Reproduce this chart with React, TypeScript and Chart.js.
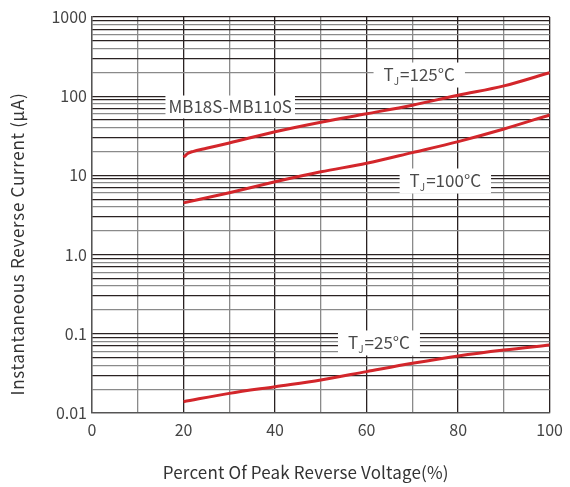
import React, { useEffect, useRef } from 'react';
import { Chart, registerables } from 'chart.js';

Chart.register(...registerables);

// ---- data ----
const voltage125 = [20, 21, 22, 25, 30, 40, 50, 60, 70, 80, 90, 100];
const current125 = [17, 19, 20, 22, 25.7, 35.6, 47, 60, 77, 103, 135, 198];
const voltage100 = [20, 30, 40, 50, 60, 70, 80, 90, 100];
const current100 = [4.5, 6.05, 8.3, 11.1, 14.2, 19.4, 26.7, 38.5, 58];
const voltage25 = [20, 30, 40, 50, 60, 70, 80, 90, 100];
const current25 = [0.0139, 0.0177, 0.0215, 0.0261, 0.0333, 0.0424, 0.0525, 0.0624, 0.0722];

const xGridValues = [0, 10, 20, 30, 40, 50, 60, 70, 80, 90, 100];
const xTickLabels = ['0', '', '20', '', '40', '', '60', '', '80', '', '100'];
const yDecades = [0.01, 0.1, 1, 10, 100, 1000];
const yTickLabels = ['0.01', '0.1', '1.0', '10', '100', '1000'];

const xTitle = 'Percent Of Peak Reverse Voltage(%)';
const yTitle = 'Instantaneous Reverse Current (μA)';

type Part = [string, 'n' | 's'];
const noteParts: Part[][] = [
  [['MB18S-MB110S', 'n']],
  [['T', 'n'], ['J', 's'], ['=125°C', 'n']],
  [['T', 'n'], ['J', 's'], ['=100°C', 'n']],
  [['T', 'n'], ['J', 's'], ['=25°C', 'n']],
];
const noteX = [30.2, 71.5, 77.2, 62.7];
const noteY = [73, 185, 8.5, 0.0766];

const FONT = '"Noto Sans CJK SC", "Noto Sans", sans-serif';
const RED = '#d3262b';

const notesPlugin = {
  id: 'notes',
  beforeDatasetsDraw(chart: any) {
    const { ctx, scales } = chart;
    const xs = scales.x;
    const ys = scales.y;
    ctx.save();
    noteParts.forEach((parts, i) => {
      const cx = xs.getPixelForValue(noteX[i]);
      const cy = ys.getPixelForValue(noteY[i]);
      const widths = parts.map(([t, k]) => {
        ctx.font = k === 's' ? `10px ${FONT}` : `17px ${FONT}`;
        return ctx.measureText(t).width + (k === 's' ? 1 : 0);
      });
      const total = widths.reduce((a, b) => a + b, 0);
      const padX = i === 0 ? 3 : 10;
      const boxH = i === 0 ? 23 : 25;
      ctx.fillStyle = '#ffffff';
      ctx.fillRect(cx - total / 2 - padX, cy - boxH / 2, total + padX * 2, boxH);
      let px = cx - total / 2;
      ctx.fillStyle = '#4a4a4a';
      ctx.textBaseline = 'middle';
      ctx.textAlign = 'left';
      parts.forEach(([t, k], j) => {
        if (k === 's') {
          ctx.font = `10px ${FONT}`;
          ctx.fillText(t, px, cy + 6);
        } else {
          ctx.font = `17px ${FONT}`;
          ctx.fillText(t, px, cy);
        }
        px += widths[j];
      });
    });
    ctx.restore();
  },
  afterDraw(chart: any) {
    const { ctx, chartArea } = chart;
    ctx.save();
    ctx.fillStyle = '#333333';
    ctx.textAlign = 'center';
    ctx.textBaseline = 'middle';
    ctx.font = `17px ${FONT}`;
    try { (ctx as any).letterSpacing = '0.15px'; } catch (e) {}
    ctx.fillText(xTitle, chartArea.left + (chartArea.right - chartArea.left) * 0.467, 473);
    ctx.translate(18, 244);
    ctx.rotate(-Math.PI / 2);
    ctx.font = `17px ${FONT}`;
    try { (ctx as any).letterSpacing = '0.7px'; } catch (e) {}
    ctx.fillText(yTitle, 0, 0);
    ctx.restore();
  },
};

function sig(v: number): number {
  const e = Math.floor(Math.log10(v) + 1e-9);
  return Math.round(v / Math.pow(10, e));
}

export default function App() {
  const ref = useRef<HTMLCanvasElement>(null);
  useEffect(() => {
    document.body.style.margin = '0';
    const canvas = ref.current!;
    const chart = new Chart(canvas, {
      type: 'line',
      data: {
        datasets: [
          { label: '125', data: voltage125.map((x, i) => ({ x, y: current125[i] })) },
          { label: '100', data: voltage100.map((x, i) => ({ x, y: current100[i] })) },
          { label: '25', data: voltage25.map((x, i) => ({ x, y: current25[i] })) },
        ].map((d) => ({
          ...d,
          borderColor: RED,
          borderWidth: 3,
          pointRadius: 0,
          cubicInterpolationMode: 'monotone' as const,
          fill: false,
        })),
      },
      options: {
        animation: false,
        responsive: false,
        layout: { padding: { top: 17, right: 18, left: 0, bottom: 0 } },
        plugins: { legend: { display: false }, tooltip: { enabled: false } },
        scales: {
          x: {
            type: 'linear',
            min: 0,
            max: 100,
            afterBuildTicks: (s: any) => {
              s.ticks = xGridValues.map((v) => ({ value: v }));
            },
            afterFit: (s: any) => {
              s.height = 74;
            },
            grid: {
              drawTicks: false,
              lineWidth: 1.3,
              color: (c: any) => (c.tick && c.tick.value % 20 === 0 ? '#2a2222' : '#8a8a8a'),
            },
            border: { color: '#555555', width: 1.3 },
            ticks: {
              autoSkip: false,
              maxRotation: 0,
              padding: 7,
              color: '#444444',
              font: { family: FONT, size: 16 },
              callback: (v: any) => {
                const i = xGridValues.indexOf(Number(v));
                return i >= 0 ? xTickLabels[i] : '';
              },
            },
            title: { display: false },
          },
          y: {
            type: 'logarithmic',
            min: 0.01,
            max: 1000,
            afterBuildTicks: (s: any) => {
              const t: any[] = [];
              for (let i = 0; i < yDecades.length - 1; i++) {
                for (let m = 1; m < 10; m++) t.push({ value: +(m * yDecades[i]).toPrecision(6) });
              }
              t.push({ value: yDecades[yDecades.length - 1] });
              s.ticks = t;
            },
            afterFit: (s: any) => {
              s.width = 92;
            },
            grid: {
              drawTicks: false,
              lineWidth: 1.3,
              color: (c: any) => {
                if (!c.tick) return '#8a8a8a';
                const m = sig(c.tick.value);
                if (m === 1) return '#2a2222';
                return m % 2 === 1 ? '#2a2222' : '#8a8a8a';
              },
            },
            border: { color: '#555555', width: 1.3 },
            ticks: {
              autoSkip: false,
              padding: 5,
              color: '#444444',
              font: { family: FONT, size: 16 },
              callback: (v: any) => {
                const i = yDecades.findIndex((d) => Math.abs(d - Number(v)) / d < 1e-6);
                return i >= 0 ? yTickLabels[i] : '';
              },
            },
            title: { display: false },
          },
        },
      },
      plugins: [notesPlugin],
    } as any);
    return () => chart.destroy();
  }, []);
  return (
    <div style={{ width: 570, height: 487 }}>
      <canvas ref={ref} width={570} height={487} />
    </div>
  );
}
